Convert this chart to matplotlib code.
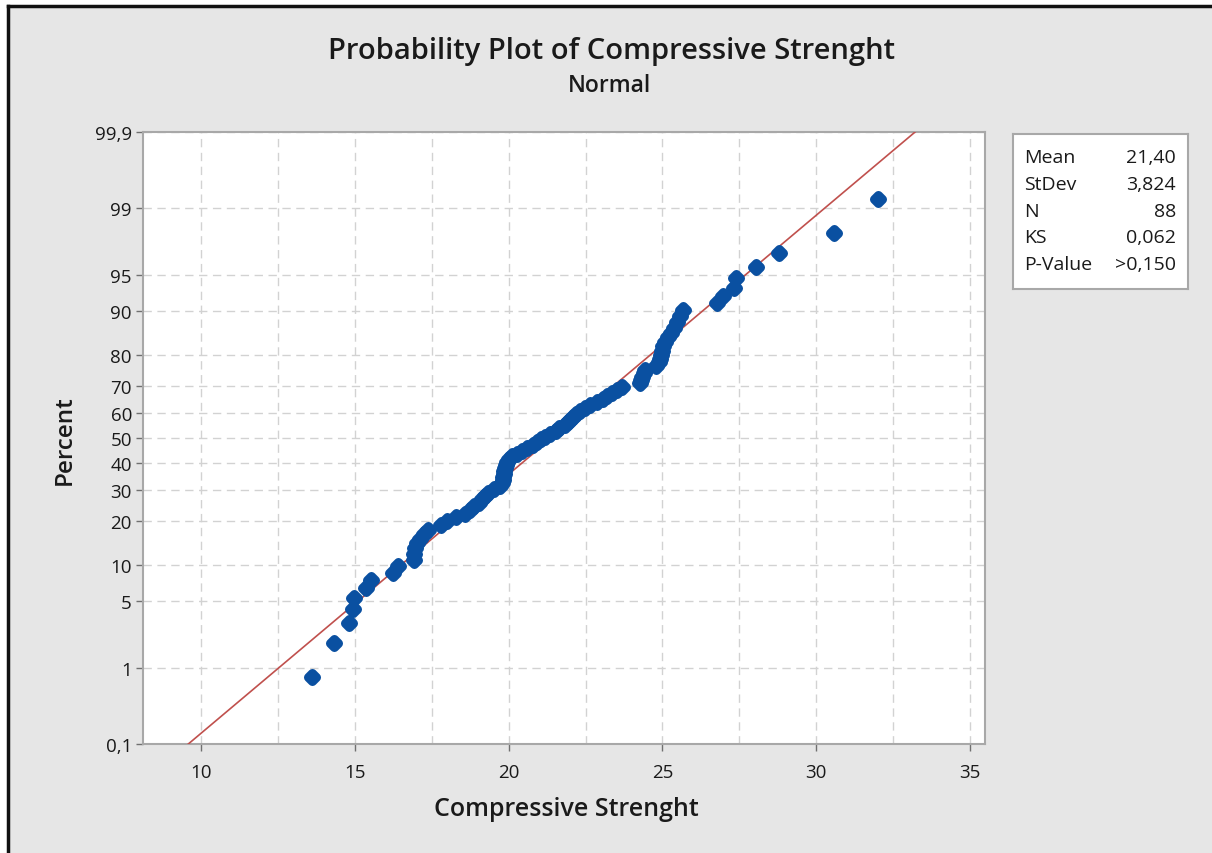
import numpy as np
import matplotlib
matplotlib.use('Agg')
import matplotlib.pyplot as plt
from matplotlib.patches import Rectangle
from matplotlib.lines import Line2D
from matplotlib.markers import MarkerStyle
from statistics import NormalDist

# sorted compressive strength values (n = 88)
strength = [13.61, 14.32, 14.81, 14.94, 14.97, 15.36, 15.53, 16.24, 16.40, 16.92,
            16.92, 16.96, 17.02, 17.12, 17.25, 17.38, 17.80, 18.00, 18.29, 18.58,
            18.75, 18.88, 19.04, 19.14, 19.23, 19.33, 19.53, 19.72, 19.79, 19.82,
            19.82, 19.85, 19.85, 19.88, 19.92, 19.95, 20.01, 20.11, 20.27, 20.44,
            20.60, 20.79, 20.92, 21.05, 21.18, 21.35, 21.54, 21.64, 21.83, 21.93,
            22.00, 22.09, 22.19, 22.32, 22.48, 22.65, 22.87, 23.07, 23.20, 23.36,
            23.52, 23.69, 24.27, 24.30, 24.34, 24.40, 24.43, 24.79, 24.89, 24.92,
            24.95, 24.98, 25.01, 25.08, 25.18, 25.28, 25.38, 25.47, 25.57, 25.67,
            26.77, 26.97, 27.33, 27.39, 28.04, 28.79, 30.58, 32.01]

# values from the stats box
mean_fit = 21.40
sd_fit = 3.824
stat_names = ['Mean', 'StDev', 'N', 'KS', 'P-Value']
stat_values = ['21,40', '3,824', '88', '0,062', '>0,150']

pct_ticks = [0.1, 1, 5, 10, 20, 30, 40, 50, 60, 70, 80, 90, 95, 99, 99.9]
pct_labels = ['0,1', '1', '5', '10', '20', '30', '40', '50', '60', '70', '80', '90', '95', '99', '99,9']
x_ticks = [10, 15, 20, 25, 30, 35]

W, H = 1212, 854
nd = NormalDist()
_inv = np.vectorize(nd.inv_cdf, otypes=[float])
_cdf = np.vectorize(nd.cdf, otypes=[float])


def pct_to_z(p):
    p = np.clip(np.asarray(p, dtype=float) / 100.0, 1e-9, 1 - 1e-9)
    return _inv(p)


def z_to_pct(z):
    return _cdf(np.asarray(z, dtype=float)) * 100.0


plt.rcParams['font.family'] = ['Open Sans', 'DejaVu Sans']

fig = plt.figure(figsize=(W / 100, H / 100), dpi=100)
fig.patch.set_facecolor('white')
# grey screenshot background with dark frame on top/left
fig.patches.append(Rectangle((8 / W, 0), 1, 1 - 7 / H, transform=fig.transFigure,
                             facecolor='#e6e6e6', edgecolor='none', zorder=-5))
fig.add_artist(Line2D([8 / W, 8 / W], [0, 1 - 7 / H], color='#111111', lw=2.5, transform=fig.transFigure))
fig.add_artist(Line2D([8 / W, 1], [1 - 7 / H, 1 - 7 / H], color='#111111', lw=2.5, transform=fig.transFigure))

ax = fig.add_axes([143 / W, 1 - 745 / H, (985 - 143) / W, (745 - 133) / H])
ax.set_facecolor('white')
ax.set_yscale('function', functions=(pct_to_z, z_to_pct))

n = len(strength)
ranks = np.arange(1, n + 1)
pct = (ranks - 0.3) / (n + 0.4) * 100  # median ranks, like Minitab

xs = np.linspace(8, 35.5, 200)
ax.plot(xs, z_to_pct((xs - mean_fit) / sd_fit), color='#c0504d', lw=1.2, zorder=3)
ax.plot(strength, pct, linestyle='none', marker=MarkerStyle('D', joinstyle='round'), ms=4.5, mew=6.5,
        color='#0a50a1', markeredgecolor='#0a50a1', zorder=4)

ax.set_xlim(8.11, 35.49)
ax.set_ylim(0.1, 99.9)
ax.set_xticks(x_ticks)
ax.set_xticks(np.arange(12.5, 35, 5), minor=True)
ax.set_yticks(pct_ticks)
ax.set_yticklabels(pct_labels)
ax.yaxis.set_minor_locator(matplotlib.ticker.NullLocator())
ax.tick_params(axis='both', which='major', labelsize=13.5, length=5, width=1, color='#707070',
               labelcolor='#1a1a1a', pad=3)
ax.tick_params(axis='x', which='major', pad=9)
ax.tick_params(axis='x', which='minor', length=0)
ax.grid(True, which='both', axis='x', linestyle=(0, (6, 4)), color='#d2d2d2', lw=1)
ax.grid(True, which='major', axis='y', linestyle=(0, (6, 4)), color='#d2d2d2', lw=1)
ax.set_axisbelow(True)
for s in ax.spines.values():
    s.set_color('#a8a8a8')
    s.set_linewidth(1.5)

fig.text(612 / W, 1 - 52 / H, 'Probability Plot of Compressive Strenght', ha='center', va='center',
         fontsize=21, fontweight='semibold', color='#1a1a1a')
fig.text(610 / W, 1 - 86 / H, 'Normal', ha='center', va='center', fontsize=16.5,
         fontweight='semibold', color='#1a1a1a')
fig.text(566 / W, 1 - 810 / H, 'Compressive Strenght', ha='center', va='center', fontsize=18,
         fontweight='semibold', color='#1a1a1a')
fig.text(65 / W, 1 - 440 / H, 'Percent', ha='center', va='center', rotation=90, fontsize=17.5,
         fontweight='semibold', color='#1a1a1a')

# stats box
bx = fig.add_axes([1013 / W, 1 - 290 / H, 175 / W, 155 / H])
bx.set_xticks([])
bx.set_yticks([])
bx.set_facecolor('white')
for s in bx.spines.values():
    s.set_color('#a8a8a8')
    s.set_linewidth(1.5)
for k, (name, val) in enumerate(zip(stat_names, stat_values)):
    yy = 1 - (23 + k * 26.8) / 155
    bx.text(11 / 175, yy, name, ha='left', va='center', fontsize=14, color='#1a1a1a', transform=bx.transAxes)
    bx.text(163 / 175, yy, val, ha='right', va='center', fontsize=14, color='#1a1a1a', transform=bx.transAxes)

fig.savefig('out.png', dpi=100, facecolor=fig.get_facecolor())
